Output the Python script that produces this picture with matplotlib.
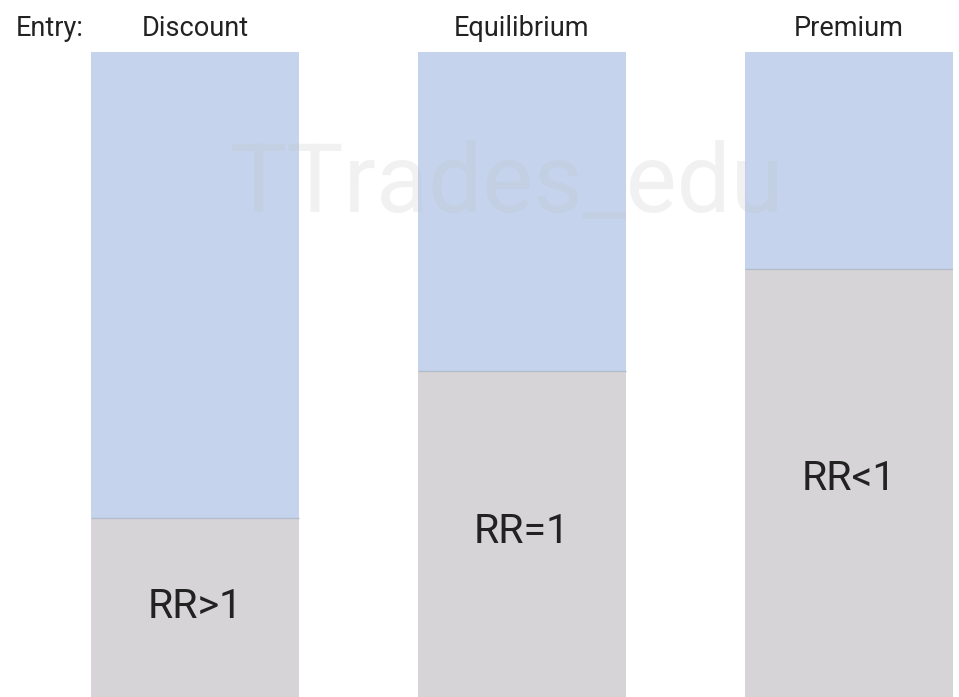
import matplotlib.pyplot as plt
import numpy as np

# data
entries = ['Discount', 'Equilibrium', 'Premium']
rr_labels = ['RR>1', 'RR=1', 'RR<1']
gray_part = [27.8, 50.5, 66.4]          # lower (gray) share of each column, %
blue_part = [100 - g for g in gray_part]  # upper (blue) share

plt.rcParams['font.family'] = ['Roboto', 'DejaVu Sans']

fig = plt.figure(figsize=(9.59, 6.97), dpi=100)
ax = fig.add_axes([91 / 959, 0, 862 / 959, 645 / 697])

x = np.arange(len(entries))
w = 0.636
ax.bar(x, gray_part, width=w, color='#d6d4d6', edgecolor='none')
ax.bar(x, blue_part, width=w, bottom=gray_part, color='#c5d4ec', edgecolor='none')
ax.hlines(gray_part, x - w / 2, x + w / 2, color='#b3bccc', linewidth=1)

ax.set_xlim(-w / 2, 2 + w / 2)
ax.set_ylim(0, 100)
ax.axis('off')

# column headers and RR labels
for i, name in enumerate(entries):
    ax.text(x[i], 103.7, name, ha='center', va='center', fontsize=19.5,
            color='#222222', clip_on=False)
    ax.text(x[i], gray_part[i] * 0.515 - 0.35, rr_labels[i], ha='center', va='center',
            fontsize=29.5, color='#222222')

fig.text(16 / 959, 1 - 28 / 697, 'Entry:', ha='left', va='center',
         fontsize=19.5, color='#222222')

# watermark
fig.text(507 / 959, 1 - 212 / 697, 'TTrades_edu', ha='center', va='baseline',
         fontsize=69, color='#bbbbbb', alpha=0.2)

fig.savefig('out.png', dpi=100)
